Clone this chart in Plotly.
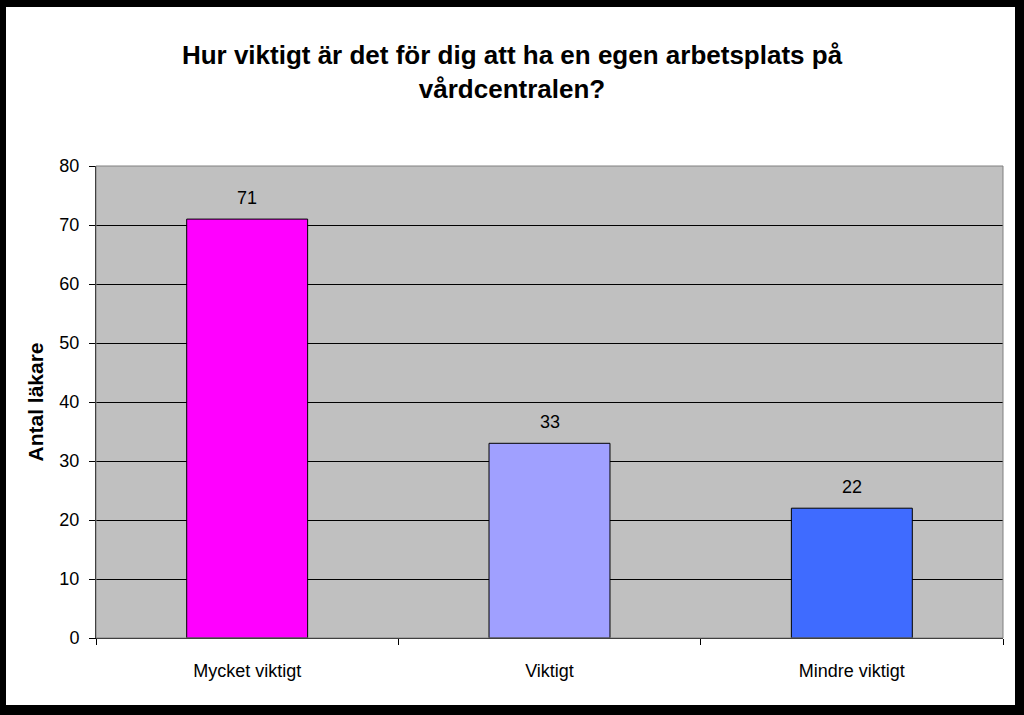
import plotly.graph_objects as go

categories = ["Mycket viktigt", "Viktigt", "Mindre viktigt"]
values = [71, 33, 22]
bar_colors = ["#FF00FF", "#A0A0FF", "#3F6BFF"]
y_ticks = [0, 10, 20, 30, 40, 50, 60, 70, 80]

W, H = 1024, 715
L, R, T, B = 96, 21, 166, 77
pw, ph = W - L - R, H - T - B

def px(x):
    return (x - L) / pw

def py(y):
    return (H - B - y) / ph

fig = go.Figure(go.Bar(
    x=categories, y=values,
    marker=dict(color=bar_colors, line=dict(color="black", width=1)),
    cliponaxis=False,
))

for c, v in zip(categories, values):
    fig.add_annotation(x=c, y=v, text=str(v), showarrow=False,
                       yanchor="bottom", yshift=9,
                       font=dict(family="Liberation Sans, Arial", size=18, color="black"))

shapes = [
    dict(type="rect", xref="paper", yref="paper", x0=0, x1=1, y0=0, y1=1,
         line=dict(color="#808080", width=1), layer="above"),
    # black frame around the chart
    dict(type="rect", xref="paper", yref="paper", x0=px(0), x1=px(6), y0=py(H), y1=py(0),
         fillcolor="black", line=dict(width=0)),
    dict(type="rect", xref="paper", yref="paper", x0=px(0), x1=px(W), y0=py(7), y1=py(0),
         fillcolor="black", line=dict(width=0)),
    dict(type="rect", xref="paper", yref="paper", x0=px(1015), x1=px(W), y0=py(H), y1=py(0),
         fillcolor="black", line=dict(width=0)),
    dict(type="rect", xref="paper", yref="paper", x0=px(0), x1=px(W), y0=py(H), y1=py(705),
         fillcolor="black", line=dict(width=0)),
]

fig.update_layout(
    width=W, height=H,
    margin=dict(l=L, r=R, t=T, b=B),
    paper_bgcolor="white", plot_bgcolor="#C0C0C0",
    font=dict(family="Liberation Sans, Arial", color="black"),
    title=dict(text="Hur viktigt är det för dig att ha en egen arbetsplats på<br>vårdcentralen?",
               x=0.5, xanchor="center", y=1 - 64 / H, yanchor="middle",
               font=dict(family="Liberation Sans, Arial", size=26, color="black", weight="bold")),
    bargap=0.6,
    showlegend=False,
    shapes=shapes,
)
fig.update_xaxes(
    showline=True, linecolor="black", linewidth=1,
    ticks="outside", tickson="boundaries", ticklen=6, tickcolor="black",
    tickfont=dict(size=18, color="black"), showgrid=False,
    ticklabelstandoff=16,
)
fig.update_yaxes(
    range=[0, 80], tickvals=y_ticks, showline=True, linecolor="black", linewidth=1,
    ticks="outside", ticklen=6, tickcolor="black",
    tickfont=dict(size=18, color="black"),
    ticklabelstandoff=6,
    showgrid=True, gridcolor="black", gridwidth=1, zeroline=False,
    title=dict(text="Antal läkare", font=dict(size=21, color="black", weight="bold"), standoff=10),
)

fig.write_html("out.html")
